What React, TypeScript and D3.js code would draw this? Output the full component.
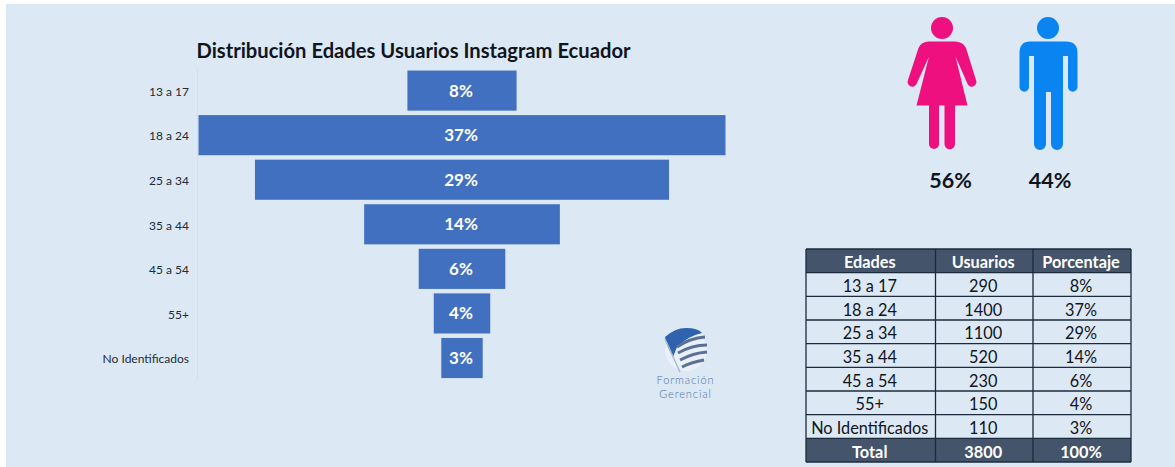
import React from "react";
import * as d3 from "d3";

// Instagram audience in Ecuador, by age bracket
const ageGroups = ["13 a 17", "18 a 24", "25 a 34", "35 a 44", "45 a 54", "55+", "No Identificados"];
const users = [290, 1400, 1100, 520, 230, 150, 110];
const shares = ["8%", "37%", "29%", "14%", "6%", "4%", "3%"];
const tableColumns = ["Edades", "Usuarios", "Porcentaje"];
const totalRow = ["Total", "3800", "100%"];
const genderLabels = ["56%", "44%"];
const title = "Distribución Edades Usuarios Instagram Ecuador";

const FONT = "Lato, 'Open Sans', sans-serif";
const PANEL = "#dce8f4";
const BAR = "#4270c0";
const HEADER = "#44546a";
const INK = "#10151c";
const RULE = "#1c2b3c";

const W = 1175;
const H = 467;
const CENTER = 462;

// Funnel bars are centred, so half of each value goes on either side
const halfWidth = d3.scaleLinear().domain([0, 1400]).range([0, 263.5]);
const band = d3.scaleBand<string>().domain(ageGroups).range([68.3, 380.3]).paddingInner(0.1).paddingOuter(0.05);

// Table geometry
const colEdges = [806, 935.5, 1033, 1131];
const rowEdges = d3.scaleLinear().domain([0, 9]).range([249, 462]);
const tableRows = ageGroups.map((g, i) => [g, String(users[i]), shares[i]]);

function Woman() {
  return (
    <g fill="#ee107e">
      <circle cx={942} cy={28} r={11} />
      <path d="M929 41.5 H955 Q963 41.5 966 48 L976 80 A4.6 4.6 0 0 1 967.6 84 L955.5 56.5 L967.5 105.5 H916.5 L929 56.5 L916.5 84 A4.6 4.6 0 0 1 908 80 L918.5 48 Q921 41.5 929 41.5 Z" />
      <path d="M929 105 H939 V144 A5 5 0 0 1 929 144 Z" />
      <path d="M944.5 105 H955 V144 A5.2 5.2 0 0 1 944.5 144 Z" />
    </g>
  );
}

function Man() {
  return (
    <g fill="#0a84f0">
      <circle cx={1048} cy={28} r={11} />
      <path d="M1030 41.5 H1066 Q1077.5 41.5 1077.5 53 V87 A4.7 4.7 0 0 1 1068 87 V56 H1063 V144 A6 6 0 0 1 1051 144 V92 H1046 V144 A6 6 0 0 1 1034 144 V56 H1029 V87 A4.7 4.7 0 0 1 1019.5 87 V53 Q1019.5 41.5 1030 41.5 Z" />
    </g>
  );
}

function Logo() {
  const stripes = [
    "M677 347 Q690 338 705 337",
    "M678 353 Q692 345 707 345",
    "M680 360 Q693 353 707 352",
    "M682 367 Q692 362 704 360",
  ];
  return (
    <g>
      <circle cx={686} cy={350} r={21} fill="#e9f0f8" />
      <path d="M665 337 Q675 328 686 328 Q698 328 702 333 Q688 336 677 347 L673 357 Q666 345 665 337 Z" fill="#2f63ad" />
      <path d="M665 339 L680 372" stroke="#a9bbd3" strokeWidth={1.5} fill="none" />
      {stripes.map((d) => (
        <path key={d} d={d} stroke="#5a7096" strokeWidth={3} fill="none" />
      ))}
      <text x={685.5} y={384} textAnchor="middle" fontFamily={FONT} fontSize={11} letterSpacing={0.9} fontWeight={300} fill="#4f72a3">Formación</text>
      <text x={685.5} y={397.5} textAnchor="middle" fontFamily={FONT} fontSize={11} letterSpacing={0.9} fontWeight={300} fill="#4f72a3">Gerencial</text>
    </g>
  );
}

export default function App() {
  return (
    <svg width={W} height={H} viewBox={`0 0 ${W} ${H}`} style={{ position: "absolute", left: 0, top: 0, background: "#fff" }}>
      <rect x={6} y={4} width={W - 6} height={H - 4} fill={PANEL} />

      <text x={413.5} y={58} textAnchor="middle" fontFamily={FONT} fontSize={20.2} fontWeight={700} fill={INK}>{title}</text>

      {/* Category axis */}
      <line x1={197.5} x2={197.5} y1={68} y2={380} stroke="#d3dfec" />
      {ageGroups.map((g) => (
        <text
          key={g}
          x={189}
          y={(band(g) as number) + band.bandwidth() / 2 + 1}
          dy="0.35em"
          textAnchor="end"
          fontFamily={FONT}
          fontSize={12}
          fill="#222b36"
        >
          {g}
        </text>
      ))}

      {/* Funnel bars */}
      {ageGroups.map((g, i) => {
        const half = halfWidth(users[i]);
        const y = band(g) as number;
        return (
          <g key={g}>
            <rect x={CENTER - half} y={y} width={half * 2} height={band.bandwidth()} fill={BAR} />
            <text
              x={CENTER - 1}
              y={y + band.bandwidth() / 2}
              dy="0.35em"
              textAnchor="middle"
              fontFamily={FONT}
              fontSize={17}
              fontWeight={700}
              fill="#fff"
            >
              {shares[i]}
            </text>
          </g>
        );
      })}

      <Woman />
      <Man />
      {genderLabels.map((label, i) => (
        <text key={label} x={i === 0 ? 950.5 : 1050} y={188} textAnchor="middle" fontFamily={FONT} fontSize={21.5} fontWeight={700} fill={INK}>
          {label}
        </text>
      ))}

      <Logo />

      {/* Summary table */}
      <rect x={colEdges[0]} y={rowEdges(0)} width={colEdges[3] - colEdges[0]} height={rowEdges(1) - rowEdges(0)} fill={HEADER} />
      <rect x={colEdges[0]} y={rowEdges(8)} width={colEdges[3] - colEdges[0]} height={rowEdges(9) - rowEdges(8)} fill={HEADER} />
      {d3.range(0, 10).map((i) => (
        <line key={i} x1={colEdges[0]} x2={colEdges[3]} y1={rowEdges(i)} y2={rowEdges(i)} stroke={RULE} strokeWidth={1.3} />
      ))}
      {colEdges.map((x) => (
        <line key={x} x1={x} x2={x} y1={rowEdges(0)} y2={rowEdges(9)} stroke={RULE} strokeWidth={1.3} />
      ))}
      {[tableColumns, ...tableRows, totalRow].map((row, r) =>
        row.map((cell, c) => {
          const strong = r === 0 || r === 8;
          return (
            <text
              key={`${r}-${c}`}
              x={(colEdges[c] + colEdges[c + 1]) / 2 - 1}
              y={(rowEdges(r) + rowEdges(r + 1)) / 2 + 1.5}
              dy="0.36em"
              textAnchor="middle"
              fontFamily={FONT}
              fontSize={16.3}
              fontWeight={strong ? 700 : 400}
              fill={strong ? "#fff" : INK}
            >
              {cell}
            </text>
          );
        })
      )}
    </svg>
  );
}
